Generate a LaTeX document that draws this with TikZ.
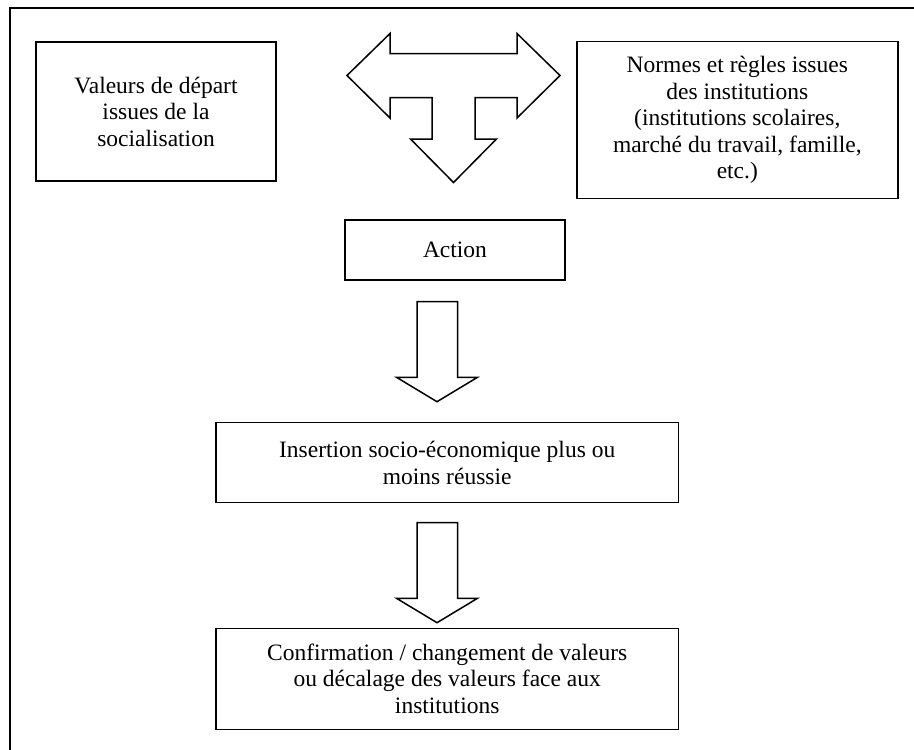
\documentclass[tikz,border=0pt]{standalone}
\usepackage{fontspec}
\setmainfont{Liberation Serif}
\begin{document}
\begin{tikzpicture}[x=1pt,y=-1pt,
  box/.style={draw=black,line width=1.5pt,align=center,inner sep=0pt,
    font=\fontsize{23.5}{26.5}\selectfont},
  blockarrow/.style={draw=black,line width=1.5pt,line join=miter,fill=white}]
\useasboundingbox (0,0) rectangle (914,750);
% outer frame (top and left edges only)
\draw[line width=2pt] (914,7.5) -- (10,7.5) -- (10,750);
% boxes
\node[box,minimum width=240pt,minimum height=139pt] (val) at (156,111.5)
  {Valeurs de départ\\issues de la\\socialisation};
\node[box,minimum width=321pt,minimum height=156.6pt] (norm) at (737.3,120)
  {Normes et règles issues\\des institutions\\(institutions scolaires,\\marché du travail, famille,\\etc.)};
\node[box,minimum width=220pt,minimum height=60pt] (act) at (455,250) {Action};
\node[box,minimum width=462.3pt,minimum height=80pt] (ins) at (447.2,462.7)
  {Insertion socio-économique plus ou\\moins réussie};
\node[box,minimum width=462.3pt,minimum height=101pt] (conf) at (447.2,678.8)
  {Confirmation / changement de valeurs\\ou décalage des valeurs face aux\\institutions};
% triple block arrow
\draw[blockarrow] (347,75.5) -- (390,33.5) -- (390,53.5) -- (517,53.5) -- (517,33.5)
  -- (560,75.5) -- (517,118) -- (517,97.5) -- (475,97.5) -- (475,139) -- (496.5,139)
  -- (453.5,182.5) -- (410.5,139) -- (432,139) -- (432,97.5) -- (390,97.5) -- (390,118) -- cycle;
% down block arrows
\draw[blockarrow] (417,301.7) -- (457.5,301.7) -- (457.5,377.3) -- (477.5,377.3)
  -- (437,401.7) -- (396.5,377.3) -- (417,377.3) -- cycle;
\draw[blockarrow] (417,522.5) -- (457.5,522.5) -- (457.5,598.3) -- (477.5,598.3)
  -- (437,622.7) -- (396.5,598.3) -- (417,598.3) -- cycle;
\end{tikzpicture}
\end{document}
